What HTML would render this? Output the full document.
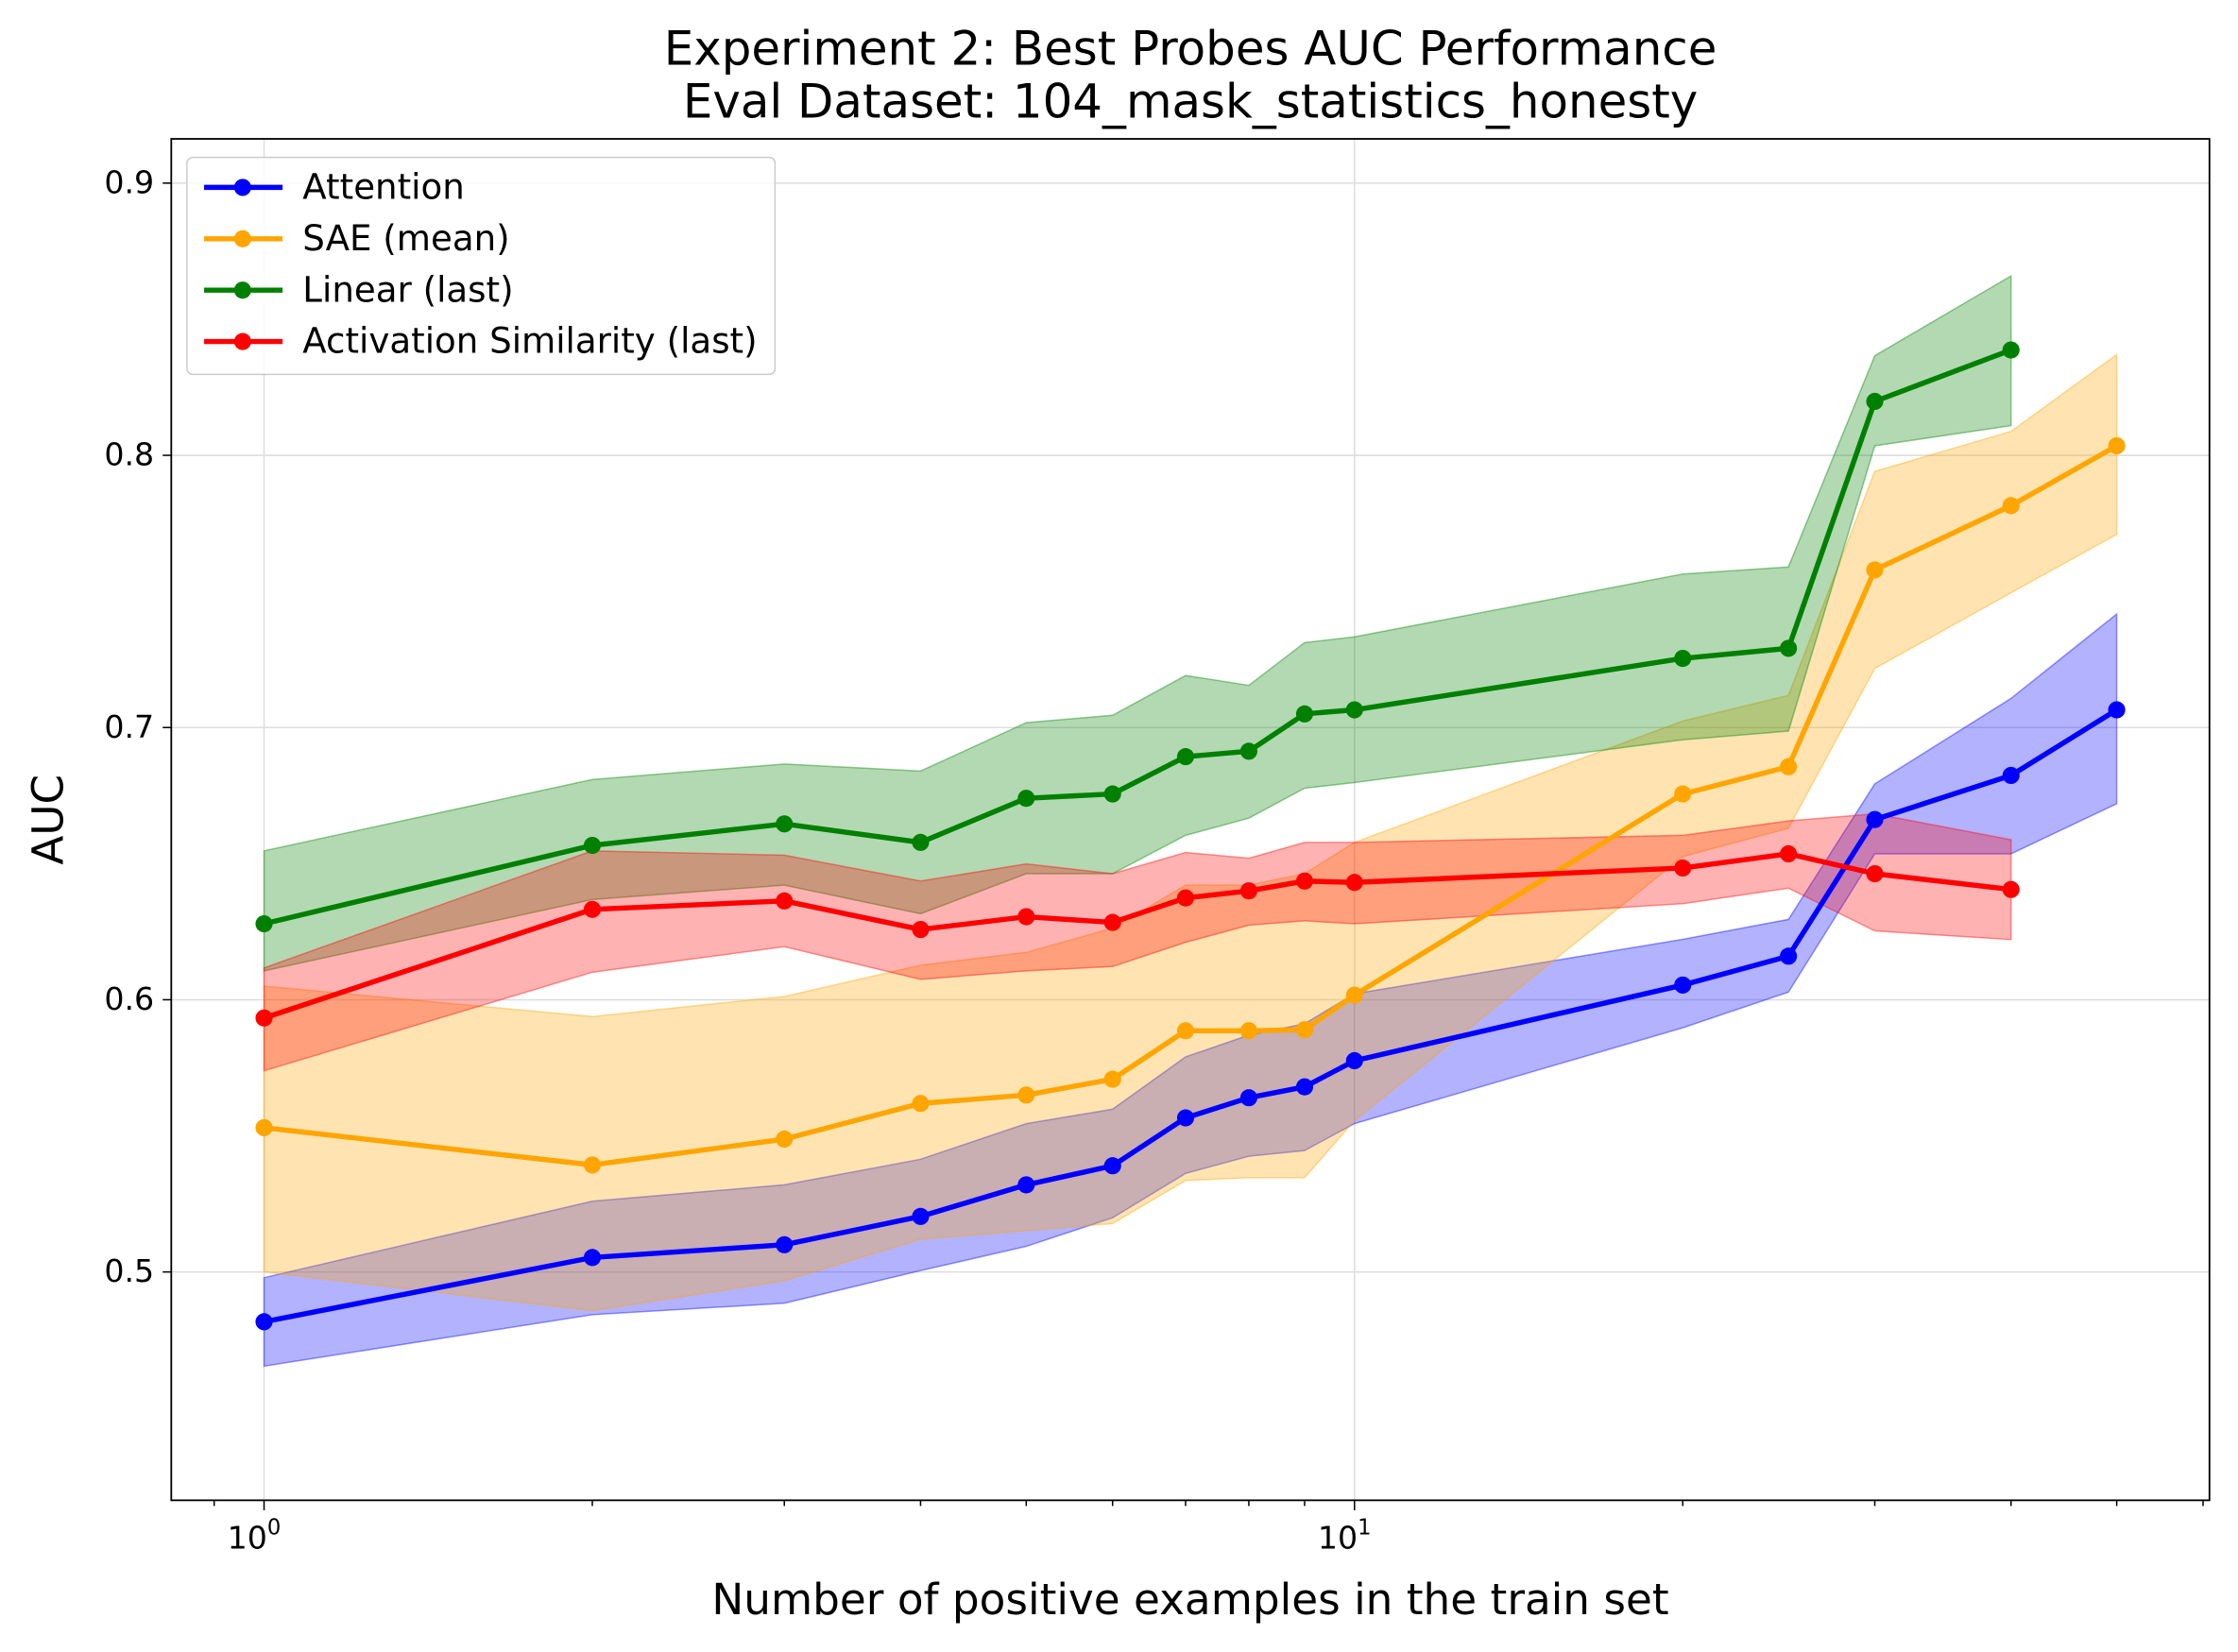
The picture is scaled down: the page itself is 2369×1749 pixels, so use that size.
<!DOCTYPE html>
<html><head><meta charset="utf-8"><style>
html,body{margin:0;padding:0;background:#fff;}
svg{display:block;font-family:"DejaVu Sans","Liberation Sans",sans-serif;}
</style></head><body>
<svg id="chart" width="2369" height="1749" viewBox="0 0 1568 1157" xmlns="http://www.w3.org/2000/svg">
<rect x="0" y="0" width="1568" height="1157" fill="#fff"/>
<text x="834" y="45" text-anchor="middle" font-size="33">Experiment 2: Best Probes AUC Performance</text>
<text x="834" y="82" text-anchor="middle" font-size="33">Eval Dataset: 104_mask_statistics_honesty</text>
<g id="grid"></g>
<g id="bands"></g>
<g id="lines"></g>
<rect x="120" y="97" width="1428" height="954" fill="none" stroke="#000" stroke-width="1.2"/>
<g id="axes"></g>
<text x="834" y="1131" text-anchor="middle" font-size="30">Number of positive examples in the train set</text>
<text transform="translate(44,574) rotate(-90)" text-anchor="middle" font-size="30">AUC</text>
<g id="legend"></g>
</svg>
<script>
const xVals=[1,2,3,4,5,6,7,8,9,10,20,25,30,40,50];
const attnMean=[0.4817,0.5053,0.510,0.5204,0.532,0.539,0.5566,0.564,0.568,0.5776,0.6054,0.616,0.6662,0.6824,0.7065];
const attnHi=[0.4979,0.526,0.532,0.5414,0.5545,0.5598,0.579,0.587,0.5912,0.6022,0.6222,0.6295,0.6793,0.7107,0.7417];
const attnLo=[0.4654,0.4843,0.4885,0.5005,0.5094,0.5199,0.5362,0.5425,0.5446,0.5545,0.5897,0.6028,0.6536,0.6536,0.672];
const saeMean=[0.553,0.5393,0.5488,0.5619,0.565,0.5708,0.5886,0.5886,0.589,0.6017,0.6756,0.6856,0.7579,0.7815,0.8035];
const saeHi=[0.605,0.5938,0.6012,0.6127,0.6174,0.6263,0.6421,0.6421,0.6463,0.6578,0.7024,0.7118,0.7941,0.8088,0.837];
const saeLo=[0.50,0.4858,0.4968,0.512,0.5152,0.5178,0.5336,0.5346,0.5346,0.5556,0.6526,0.663,0.7217,0.7495,0.771];
const linMean=[0.6279,0.6567,0.6646,0.6578,0.674,0.6756,0.6893,0.6913,0.705,0.7065,0.7254,0.7291,0.8198,0.8387];
const linHi=[0.6547,0.6809,0.6866,0.684,0.7018,0.7045,0.7191,0.7155,0.7312,0.7333,0.7564,0.759,0.8366,0.8659];
const linLo=[0.6106,0.6368,0.6421,0.6316,0.6463,0.6463,0.6604,0.6667,0.6777,0.6798,0.6955,0.6987,0.8035,0.8109];
const simMean=[0.5933,0.6332,0.6363,0.6258,0.6305,0.6284,0.6374,0.64,0.6436,0.6431,0.6484,0.6536,0.6463,0.6405];
const simHi=[0.6117,0.6547,0.6531,0.6436,0.6499,0.6463,0.6541,0.652,0.6578,0.6578,0.6604,0.6657,0.6683,0.6588];
const simLo=[0.5739,0.6101,0.6195,0.6075,0.6106,0.6122,0.6211,0.6274,0.629,0.6279,0.6353,0.641,0.6253,0.6221];
const yTicks=[0.5,0.6,0.7,0.8,0.9];
const yTickLabels=["0.5","0.6","0.7","0.8","0.9"];
const NS="http://www.w3.org/2000/svg";
function xs(v){return 185+Math.log10(v)*764;}
function ys(v){return 128+(0.9-v)*1907.5;}
function mk(tag,attrs,parent){const e=document.createElementNS(NS,tag);for(const k in attrs)e.setAttribute(k,attrs[k]);document.getElementById(parent).appendChild(e);return e;}
yTicks.forEach((t,i)=>{
  const g=mk('line',{x1:120,x2:1548,y1:ys(t),y2:ys(t),stroke:'#ddd','stroke-width':1},'grid');
  
  
  const tk=mk('line',{x1:114,x2:120,y1:ys(t),y2:ys(t),stroke:'#000'},'axes');
  
  
  const lb=mk('text',{x:108,y:ys(t)+7,'text-anchor':'end','font-size':22},'axes');
  
  
  lb.textContent=yTickLabels[i];
});
[1,10].forEach(v=>{
  const g=mk('line',{x1:xs(v),x2:xs(v),y1:97,y2:1051,stroke:'#ddd','stroke-width':1},'grid');
  
  
  const tk=mk('line',{x1:xs(v),x2:xs(v),y1:1051,y2:1058,stroke:'#000'},'axes');
  
  
  const lb=mk('text',{x:xs(v)-7,y:1085,'text-anchor':'middle','font-size':22},'axes');
  
  
  lb.textContent='10';
  const sp=mk('tspan',{dy:-10,'font-size':15},'axes');lb.appendChild(sp);sp.textContent=v===1?'0':'1';
});
[0.9,2,3,4,5,6,7,8,9,20,30,40,50,60].forEach(v=>{
  const tk=mk('line',{x1:xs(v),x2:xs(v),y1:1051,y2:1055,stroke:'#000'},'axes');
  
  
});
const series=[
 {name:'attention',label:'Attention',c:'#0000ff',m:attnMean,h:attnHi,l:attnLo},
 {name:'sae-mean',label:'SAE (mean)',c:'#ffa500',m:saeMean,h:saeHi,l:saeLo},
 {name:'linear-last',label:'Linear (last)',c:'#008000',m:linMean,h:linHi,l:linLo},
 {name:'activation-similarity',label:'Activation Similarity (last)',c:'#ff0000',m:simMean,h:simHi,l:simLo}
];
series.forEach(s=>{
  const n=s.m.length;
  let up=[],dn=[];
  for(let i=0;i<n;i++)up.push(xs(xVals[i])+','+ys(s.h[i]));
  for(let i=n-1;i>=0;i--)dn.push(xs(xVals[i])+','+ys(s.l[i]));
  const b=mk('polygon',{points:up.concat(dn).join(' '),fill:s.c,'fill-opacity':0.3,stroke:s.c,'stroke-opacity':0.4,'stroke-width':1},'bands');
  
  
});
series.forEach(s=>{
  const pts=s.m.map((v,i)=>xs(xVals[i])+','+ys(v)).join(' ');
  const l=mk('polyline',{points:pts,fill:'none',stroke:s.c,'stroke-width':3.6,'stroke-linejoin':'round'},'lines');
  
  
  s.m.forEach((v,i)=>{
    const c=mk('circle',{cx:xs(xVals[i]),cy:ys(v),r:6,fill:s.c},'lines');
    
    
  });
});
const lg=mk('rect',{x:131,y:110,width:412,height:152,rx:4,fill:'#fff','fill-opacity':0.85,stroke:'#ccc'},'legend');


series.forEach((s,i)=>{
  const y=131+i*36;
  const l=mk('line',{x1:143,x2:198,y1:y,y2:y,stroke:s.c,'stroke-width':3.6},'legend');
  
  
  const c=mk('circle',{cx:170,cy:y,r:6,fill:s.c},'legend');
  
  
  const t=mk('text',{x:212,y:y+8,'font-size':24.6},'legend');
  
  
  t.textContent=s.label;
});
</script>
</body></html>
